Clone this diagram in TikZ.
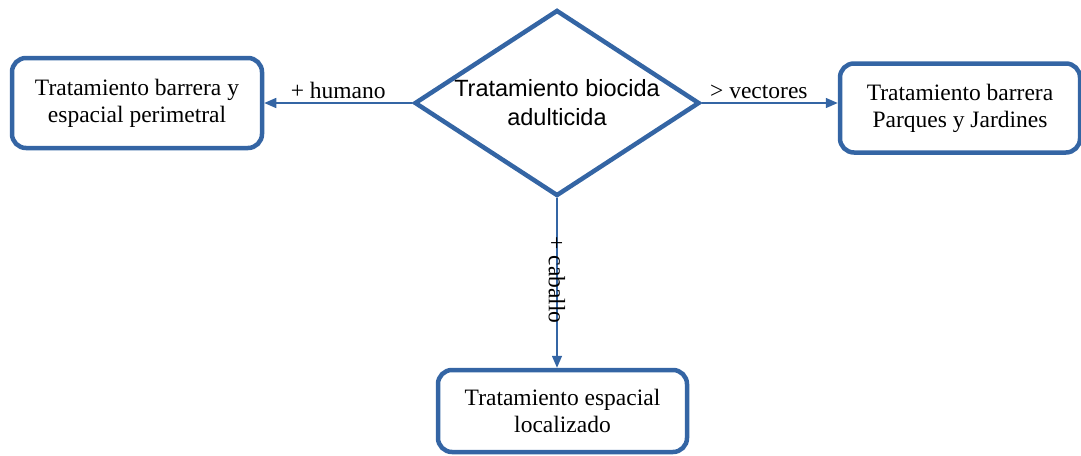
\documentclass[tikz,border=0pt]{standalone}
\usepackage{fontspec}
\setmainfont{Liberation Serif}
\setsansfont{Liberation Sans}
\usetikzlibrary{shapes.geometric,arrows.meta}
\definecolor{flowblue}{HTML}{3465A4}
\begin{document}
\begin{tikzpicture}[x=1pt,y=-1pt]
\tikzstyle{treatbox}=[draw=flowblue,line width=4.5pt,rounded corners=14pt,align=center,inner sep=0pt,font=\fontsize{23.5}{27}\selectfont]
\tikzstyle{choice}=[draw=flowblue,line width=4.5pt,shape=diamond,aspect=1.53,inner sep=0pt,minimum width=285pt,minimum height=186pt,align=center,font=\sffamily\fontsize{23.5}{29}\selectfont]
\tikzstyle{link}=[draw=flowblue,line width=1.5pt,-{Triangle[length=12pt,width=10pt]}]
\tikzstyle{tag}=[font=\fontsize{23.5}{27}\selectfont,inner sep=4pt]
    \useasboundingbox (0,0) rectangle (1081,455);
    \node[choice] (biocida) at (557,103) {Tratamiento biocida\\adulticida};
    \node[treatbox,minimum width=250pt,minimum height=90pt] (perimetral) at (137,103) {Tratamiento barrera y\\espacial perimetral};
    \node[treatbox,minimum width=240pt,minimum height=89pt] (parques) at (960,108) {Tratamiento barrera\\Parques y Jardines};
    \node[treatbox,minimum width=249pt,minimum height=82pt] (localizado) at (562.5,411) {Tratamiento espacial\\localizado};
    \draw[link] (biocida.west) to node[tag,above] {+ humano} (perimetral.east);
    \draw[link] (biocida.east) to node[tag,above,pos=0.42] {> vectores} (parques.west |- biocida.east);
    \draw[link] (biocida.south) to node[tag,rotate=-90,pos=0.5,xshift=-3pt] {+ caballo} (biocida.south |- localizado.north);
  \end{tikzpicture}
\end{document}
